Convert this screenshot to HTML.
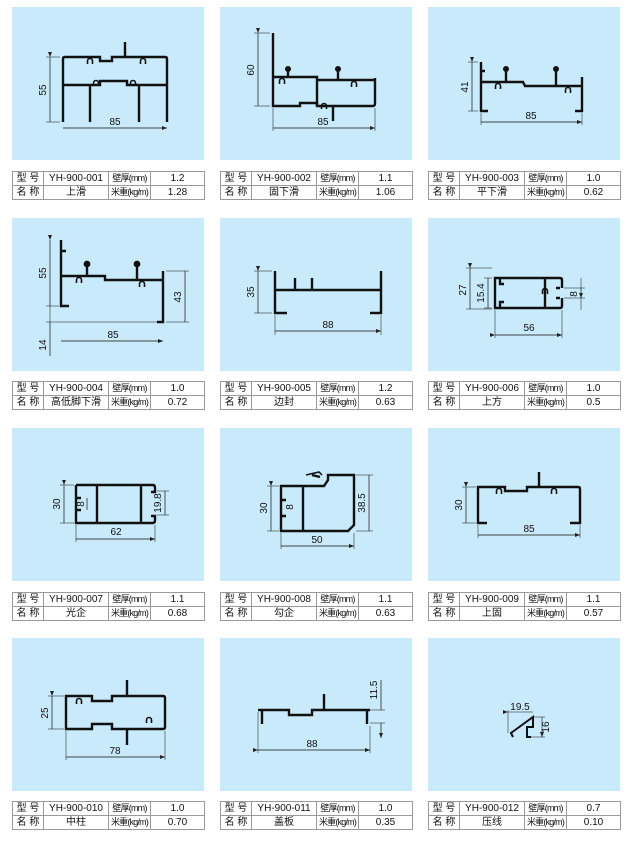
<!DOCTYPE html>
<html><head><meta charset="utf-8">
<style>
body{margin:0;background:#fff;width:631px;height:847px;position:relative;overflow:hidden;font-family:"Liberation Sans","Noto Sans CJK SC",sans-serif;}
.p{position:absolute;width:192px;height:153px;background:#c9eafb;}
.p svg{position:absolute;left:0;top:0;}
table{position:absolute;width:192px;border-collapse:collapse;font-size:10px;color:#111;table-layout:fixed;}
td{border:1px solid #9a9a9a;height:13px;padding:0;text-align:center;white-space:nowrap;overflow:hidden;line-height:13px;}
td.s{font-size:9px;letter-spacing:-0.8px}
</style></head><body>

<svg width="0" height="0" style="position:absolute">
<defs>
<marker id="a" markerWidth="6" markerHeight="6" refX="5" refY="3" orient="auto" markerUnits="userSpaceOnUse"><path d="M0,1 L5,3 L0,5 z" fill="#222"/></marker>
<path id="c" d="M-2.5,3 V0 A2.5,2.5 0 0 1 2.5,0 V3" fill="none" stroke="#111" stroke-width="1.6"/>
</defs></svg>

<!-- Row 1 -->
<div class="p" style="left:12px;top:7px"><svg width="192" height="153" fill="none" stroke="#111" stroke-width="2.4" font-size="10" font-family="Liberation Sans">
<path d="M51,115 V52 Q51,50 53,50 H88 V54 H100 V50 H153 Q155,50 155,52 V115"/>
<path d="M51,78 H88 V74 H115 V78 H155"/><path d="M78,78 V115 M127,78 V115 M113,35 V50"/>
<use href="#c" x="78" y="54"/><use href="#c" x="131" y="54"/><use href="#c" x="84" y="76"/><use href="#c" x="121" y="76"/>
<path d="M38,50 V115 M51,121 H155" stroke-width="0.7" marker-start="url(#a)" marker-end="url(#a)"/>
<path d="M34,50 H48 M34,115 H48" stroke-width="0.5"/>
<g fill="#111" stroke="none"><text x="103" y="118" text-anchor="middle">85</text><text transform="translate(34,83) rotate(-90)" text-anchor="middle">55</text></g>
</svg></div>
<div class="p" style="left:220px;top:7px"><svg width="192" height="153" fill="none" stroke="#111" stroke-width="2.4" font-size="10" font-family="Liberation Sans">
<path d="M53,26 V99 H80 V96 H97 V99 H153 Q155,99 155,96 V71"/>
<path d="M53,70 H97 V99 M97,73 H155"/><path d="M113,99 V114 M68,62 V70 M118,62 V73"/>
<use href="#c" x="62" y="74"/><use href="#c" x="134" y="77"/><use href="#c" x="104" y="99" transform="rotate(0)"/>
<circle cx="68" cy="62" r="1.8" fill="#111"/><circle cx="118" cy="62" r="1.8" fill="#111"/>
<path d="M38,26 V99 M53,121 H155" stroke-width="0.7" marker-start="url(#a)" marker-end="url(#a)"/>
<path d="M34,26 H50 M34,99 H50 M53,101 V124 M155,101 V124" stroke-width="0.5"/>
<g fill="#111" stroke="none"><text x="103" y="118" text-anchor="middle">85</text><text transform="translate(34,63) rotate(-90)" text-anchor="middle">60</text></g>
</svg></div>
<div class="p" style="left:428px;top:7px"><svg width="192" height="153" fill="none" stroke="#111" stroke-width="2.4" font-size="10" font-family="Liberation Sans">
<path d="M53,55 V104 H60 M53,75 H95 L97,79 H154 M154,70 V104 H147 M53,64 H57"/>
<path d="M78,62 V75 M128,62 V79"/><circle cx="78" cy="62" r="1.8" fill="#111"/><circle cx="128" cy="62" r="1.8" fill="#111"/>
<use href="#c" x="70" y="79"/><use href="#c" x="140" y="83"/>
<path d="M44,55 V104 M53,115 H154" stroke-width="0.7" marker-start="url(#a)" marker-end="url(#a)"/>
<path d="M40,55 H50 M40,104 H50 M53,106 V118 M154,106 V118" stroke-width="0.5"/>
<g fill="#111" stroke="none"><text x="103" y="112" text-anchor="middle">85</text><text transform="translate(40,80) rotate(-90)" text-anchor="middle">41</text></g>
</svg></div>

<!-- Row 2 -->
<div class="p" style="left:12px;top:218px"><svg width="192" height="153" fill="none" stroke="#111" stroke-width="2.4" font-size="10" font-family="Liberation Sans">
<path d="M49,22 V88 H57 M49,58 H93 V62 H151 M151,53 V104 H145 M49,33 H54"/>
<path d="M75,46 V58 M125,46 V62"/><circle cx="75" cy="46" r="2.2" fill="#111"/><circle cx="125" cy="46" r="2.2" fill="#111"/>
<use href="#c" x="67" y="62"/><use href="#c" x="130" y="66"/>
<path d="M38,22 V88 M38,104 V138 M173,53 V104 M49,123 H151" stroke-width="0.7" marker-start="url(#a)" marker-end="url(#a)"/>
<path d="M34,88 H47 M34,104 H151 M38,88 V104 M154,53 H177 M154,104 H177" stroke-width="0.5"/>
<g fill="#111" stroke="none"><text x="101" y="120" text-anchor="middle">85</text><text transform="translate(34,55) rotate(-90)" text-anchor="middle">55</text><text transform="translate(34,127) rotate(-90)" text-anchor="middle">14</text><text transform="translate(169,79) rotate(-90)" text-anchor="middle">43</text></g>
</svg></div>
<div class="p" style="left:220px;top:218px"><svg width="192" height="153" fill="none" stroke="#111" stroke-width="2.4" font-size="10" font-family="Liberation Sans">
<path d="M55,53 V95 H67 M55,72 H161 M161,53 V95 H150 M75,60 V72 M92,60 V72"/>
<path d="M38,53 V95 M55,113 H161" stroke-width="0.7" marker-start="url(#a)" marker-end="url(#a)"/>
<path d="M34,53 H52 M34,95 H52 M55,97 V117 M161,97 V117" stroke-width="0.5"/>
<g fill="#111" stroke="none"><text x="108" y="110" text-anchor="middle">88</text><text transform="translate(34,74) rotate(-90)" text-anchor="middle">35</text></g>
</svg></div>
<div class="p" style="left:428px;top:218px"><svg width="192" height="153" fill="none" stroke="#111" stroke-width="2.4" font-size="10" font-family="Liberation Sans">
<path d="M134,70 V62 Q134,60 132,60 H67 V90 H132 Q134,90 134,88 V80 M117,60 V90 M72,60 V66 H76 M72,90 V84 H76 M132,70 H128 M132,80 H128"/>
<use href="#c" x="117" y="73"/>
<path d="M42,50 V91 M60,60 V90 M153,70 V80" stroke-width="0.7" marker-start="url(#a)" marker-end="url(#a)"/>
<path d="M38,50 H64 M38,91 H64 M56,60 H64 M56,90 H64 M136,70 H157 M136,80 H157 M67,92 V120 M134,92 V120 M153,60 V70 M153,80 V92" stroke-width="0.5"/>
<path d="M67,117 H134" stroke-width="0.7" marker-start="url(#a)" marker-end="url(#a)"/>
<g fill="#111" stroke="none"><text x="101" y="113" text-anchor="middle">56</text><text transform="translate(38,72) rotate(-90)" text-anchor="middle">27</text><text transform="translate(56,75) rotate(-90)" text-anchor="middle">15.4</text><text transform="translate(149,76) rotate(-90)" text-anchor="middle">8</text></g>
</svg></div>

<!-- Row 3 -->
<div class="p" style="left:12px;top:428px"><svg width="192" height="153" fill="none" stroke="#111" stroke-width="2.4" font-size="10" font-family="Liberation Sans">
<path d="M64,57 H141 Q143,57 143,60 V64 H139 M64,57 V95 H141 Q143,95 143,92 V88 H139 M85,57 V95 M129,57 V95 M64,70 H69 M64,82 H69"/>
<path d="M52,57 V95 M75,70 V82 M153,63 V87 M64,111 H143" stroke-width="0.7" marker-start="url(#a)" marker-end="url(#a)"/>
<path d="M48,57 H62 M48,95 H62 M145,63 H157 M145,87 H157 M64,97 V114 M143,97 V114" stroke-width="0.5"/>
<g fill="#111" stroke="none"><text x="104" y="107" text-anchor="middle">62</text><text transform="translate(48,76) rotate(-90)" text-anchor="middle">30</text><text transform="translate(72,76) rotate(-90)" text-anchor="middle">8</text><text transform="translate(149,75) rotate(-90)" text-anchor="middle">19.8</text></g>
</svg></div>
<div class="p" style="left:220px;top:428px"><svg width="192" height="153" fill="none" stroke="#111" stroke-width="2.4" font-size="10" font-family="Liberation Sans">
<path d="M61,58 H104 L108,52 V47 H134 V97 L128,103 H61 Z M83,58 V103 M61,72 H66 M61,88 H66 M92,47 L100,49"/>
<path d="M86,47 L99,44 L102,47" stroke-width="1.5"/>
<path d="M51,58 V103 M149,47 V103 M61,118 H134" stroke-width="0.7" marker-start="url(#a)" marker-end="url(#a)"/>
<path d="M47,58 H59 M47,103 H59 M136,47 H153 M136,103 H153 M61,105 V121 M134,105 V121" stroke-width="0.5"/>
<g fill="#111" stroke="none"><text x="97" y="115" text-anchor="middle">50</text><text transform="translate(47,80) rotate(-90)" text-anchor="middle">30</text><text transform="translate(73,79) rotate(-90)" text-anchor="middle">8</text><text transform="translate(145,75) rotate(-90)" text-anchor="middle">38.5</text></g>
</svg></div>
<div class="p" style="left:428px;top:428px"><svg width="192" height="153" fill="none" stroke="#111" stroke-width="2.4" font-size="10" font-family="Liberation Sans">
<path d="M59,95 H50 V59 H77 V63 H99 V59 H150 Q152,59 152,61 V95 H142 M111,44 V59"/>
<use href="#c" x="71" y="63"/><use href="#c" x="126" y="63"/>
<path d="M38,59 V95 M50,107 H152" stroke-width="0.7" marker-start="url(#a)" marker-end="url(#a)"/>
<path d="M34,59 H48 M34,95 H48 M50,97 V110 M152,97 V110" stroke-width="0.5"/>
<g fill="#111" stroke="none"><text x="101" y="104" text-anchor="middle">85</text><text transform="translate(34,77) rotate(-90)" text-anchor="middle">30</text></g>
</svg></div>

<!-- Row 4 -->
<div class="p" style="left:12px;top:638px"><svg width="192" height="153" fill="none" stroke="#111" stroke-width="2.4" font-size="10" font-family="Liberation Sans">
<path d="M54,58 H80 V63 H100 V58 H151 Q153,58 153,60 V89 Q153,91 151,91 H100 V86 H80 V91 H54 Z M115,42 V58 M115,91 V107"/>
<use href="#c" x="67" y="63"/><use href="#c" x="137" y="82"/>
<path d="M40,58 V91 M54,119 H153" stroke-width="0.7" marker-start="url(#a)" marker-end="url(#a)"/>
<path d="M36,58 H52 M36,91 H52 M54,93 V122 M153,93 V122" stroke-width="0.5"/>
<g fill="#111" stroke="none"><text x="103" y="116" text-anchor="middle">78</text><text transform="translate(36,75) rotate(-90)" text-anchor="middle">25</text></g>
</svg></div>
<div class="p" style="left:220px;top:638px"><svg width="192" height="153" fill="none" stroke="#111" stroke-width="2.4" font-size="10" font-family="Liberation Sans">
<path d="M38,72 H69 V77 H92 V72 H150 M42,72 V86 M147,72 V86 M104,56 V72"/>
<path d="M161,42 V72 M161,85 V100" stroke-width="0.7" marker-end="url(#a)"/>
<path d="M38,112 H150" stroke-width="0.7" marker-start="url(#a)" marker-end="url(#a)"/>
<path d="M150,72 H165 M150,85 H165 M38,74 V115 M150,88 V115" stroke-width="0.5"/>
<g fill="#111" stroke="none"><text x="92" y="109" text-anchor="middle">88</text><text transform="translate(157,52) rotate(-90)" text-anchor="middle">11.5</text></g>
</svg></div>
<div class="p" style="left:428px;top:638px"><svg width="192" height="153" fill="none" stroke="#111" stroke-width="2" font-size="10" font-family="Liberation Sans">
<path d="M85,99 L83,95 L105,79 V89 H99 V99 H103"/>
<path d="M80,74 H105 M114,79 V99" stroke-width="0.6" marker-start="url(#a)" marker-end="url(#a)"/>
<path d="M80,72 V95 M106,79 H117 M103,99 H117" stroke-width="0.5"/>
<g fill="#111" stroke="none"><text x="92" y="72" text-anchor="middle">19.5</text><text transform="translate(121,89) rotate(-90)" text-anchor="middle">16</text></g>
</svg></div>

<!-- Tables -->
<table style="left:12px;top:171px"><colgroup><col style="width:31px"><col style="width:65px"><col style="width:42px"><col style="width:54px"></colgroup>
<tr><td>型 号</td><td>YH-900-001</td><td class="s">壁厚(mm)</td><td>1.2</td></tr><tr><td>名 称</td><td>上滑</td><td class="s">米重(kg/m)</td><td>1.28</td></tr></table>
<table style="left:220px;top:171px"><colgroup><col style="width:31px"><col style="width:65px"><col style="width:42px"><col style="width:54px"></colgroup>
<tr><td>型 号</td><td>YH-900-002</td><td class="s">壁厚(mm)</td><td>1.1</td></tr><tr><td>名 称</td><td>固下滑</td><td class="s">米重(kg/m)</td><td>1.06</td></tr></table>
<table style="left:428px;top:171px"><colgroup><col style="width:31px"><col style="width:65px"><col style="width:42px"><col style="width:54px"></colgroup>
<tr><td>型 号</td><td>YH-900-003</td><td class="s">壁厚(mm)</td><td>1.0</td></tr><tr><td>名 称</td><td>平下滑</td><td class="s">米重(kg/m)</td><td>0.62</td></tr></table>

<table style="left:12px;top:381px"><colgroup><col style="width:31px"><col style="width:65px"><col style="width:42px"><col style="width:54px"></colgroup>
<tr><td>型 号</td><td>YH-900-004</td><td class="s">壁厚(mm)</td><td>1.0</td></tr><tr><td>名 称</td><td>高低脚下滑</td><td class="s">米重(kg/m)</td><td>0.72</td></tr></table>
<table style="left:220px;top:381px"><colgroup><col style="width:31px"><col style="width:65px"><col style="width:42px"><col style="width:54px"></colgroup>
<tr><td>型 号</td><td>YH-900-005</td><td class="s">壁厚(mm)</td><td>1.2</td></tr><tr><td>名 称</td><td>边封</td><td class="s">米重(kg/m)</td><td>0.63</td></tr></table>
<table style="left:428px;top:381px"><colgroup><col style="width:31px"><col style="width:65px"><col style="width:42px"><col style="width:54px"></colgroup>
<tr><td>型 号</td><td>YH-900-006</td><td class="s">壁厚(mm)</td><td>1.0</td></tr><tr><td>名 称</td><td>上方</td><td class="s">米重(kg/m)</td><td>0.5</td></tr></table>

<table style="left:12px;top:592px"><colgroup><col style="width:31px"><col style="width:65px"><col style="width:42px"><col style="width:54px"></colgroup>
<tr><td>型 号</td><td>YH-900-007</td><td class="s">壁厚(mm)</td><td>1.1</td></tr><tr><td>名 称</td><td>光企</td><td class="s">米重(kg/m)</td><td>0.68</td></tr></table>
<table style="left:220px;top:592px"><colgroup><col style="width:31px"><col style="width:65px"><col style="width:42px"><col style="width:54px"></colgroup>
<tr><td>型 号</td><td>YH-900-008</td><td class="s">壁厚(mm)</td><td>1.1</td></tr><tr><td>名 称</td><td>勾企</td><td class="s">米重(kg/m)</td><td>0.63</td></tr></table>
<table style="left:428px;top:592px"><colgroup><col style="width:31px"><col style="width:65px"><col style="width:42px"><col style="width:54px"></colgroup>
<tr><td>型 号</td><td>YH-900-009</td><td class="s">壁厚(mm)</td><td>1.1</td></tr><tr><td>名 称</td><td>上固</td><td class="s">米重(kg/m)</td><td>0.57</td></tr></table>

<table style="left:12px;top:801px"><colgroup><col style="width:31px"><col style="width:65px"><col style="width:42px"><col style="width:54px"></colgroup>
<tr><td>型 号</td><td>YH-900-010</td><td class="s">壁厚(mm)</td><td>1.0</td></tr><tr><td>名 称</td><td>中柱</td><td class="s">米重(kg/m)</td><td>0.70</td></tr></table>
<table style="left:220px;top:801px"><colgroup><col style="width:31px"><col style="width:65px"><col style="width:42px"><col style="width:54px"></colgroup>
<tr><td>型 号</td><td>YH-900-011</td><td class="s">壁厚(mm)</td><td>1.0</td></tr><tr><td>名 称</td><td>盖板</td><td class="s">米重(kg/m)</td><td>0.35</td></tr></table>
<table style="left:428px;top:801px"><colgroup><col style="width:31px"><col style="width:65px"><col style="width:42px"><col style="width:54px"></colgroup>
<tr><td>型 号</td><td>YH-900-012</td><td class="s">壁厚(mm)</td><td>0.7</td></tr><tr><td>名 称</td><td>压线</td><td class="s">米重(kg/m)</td><td>0.10</td></tr></table>

</body></html>
